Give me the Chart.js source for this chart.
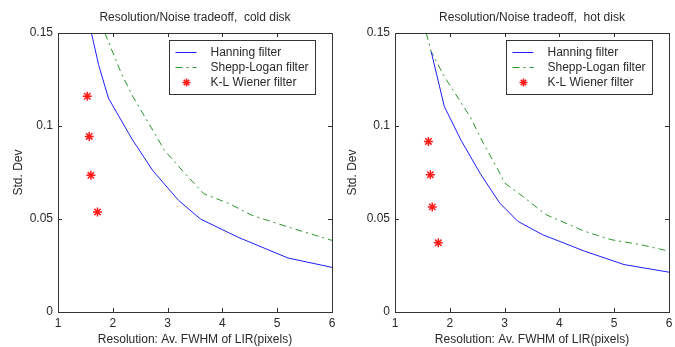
<!DOCTYPE html>
<html lang="en">
<head>
  <meta charset="UTF-8" />
  <title>Resolution/Noise tradeoff</title>
  <script src="https://cdn.jsdelivr.net/npm/chart.js"></script>
  <style>
    body { margin: 0; background: #fff; overflow: hidden; }
    .wrap { position: relative; width: 675px; height: 347px; overflow: hidden; }
    canvas { position: absolute; top: 0; }
    #cold { left: 0; }
    #hot { left: 338px; }
  </style>
</head>
<body>
  <div class="wrap">
    <canvas id="cold" width="338" height="347"></canvas>
    <canvas id="hot" width="337" height="347"></canvas>
  </div>
  <script>
    // values
    const xTicks = [1, 2, 3, 4, 5, 6];
    const yTicks = [0, 0.05, 0.1, 0.15];
    const seriesNames = ['Hanning filter', 'Shepp-Logan filter', 'K-L Wiener filter'];

    const coldHanningX = [1.61, 1.74, 1.92, 2.35, 2.73, 3.2, 3.6, 4.3, 5.2, 6.0];
    const coldHanningY = [0.150, 0.133, 0.115, 0.093, 0.076, 0.060, 0.050, 0.040, 0.029, 0.024];
    const coldSheppX = [1.855, 2.16, 2.37, 2.73, 2.94, 3.3, 3.66, 4.12, 4.54, 5.2, 6.0];
    const coldSheppY = [0.150, 0.128, 0.1156, 0.0977, 0.087, 0.075, 0.0636, 0.0583, 0.052, 0.0457, 0.0385];
    const coldWienerX = [1.535, 1.57, 1.6, 1.72];
    const coldWienerY = [0.116, 0.0944, 0.0735, 0.0538];

    const hotHanningX = [1.66, 1.9, 2.2, 2.55, 2.91, 3.24, 3.69, 4.46, 5.18, 6.0];
    const hotHanningY = [0.140, 0.1105, 0.0926, 0.0747, 0.0586, 0.0488, 0.0416, 0.0327, 0.0255, 0.0214];
    const hotSheppX = [1.57, 1.66, 1.9, 2.37, 2.61, 2.88, 3.0, 3.33, 3.75, 4.46, 4.94, 5.48, 6.0];
    const hotSheppY = [0.150, 0.140, 0.1266, 0.105, 0.0908, 0.0765, 0.0694, 0.0622, 0.0524, 0.0434, 0.0389, 0.0362, 0.0327];
    const hotWienerX = [1.61, 1.645, 1.68, 1.79];
    const hotWienerY = [0.0917, 0.0738, 0.0565, 0.0372];

    const FONT = 'Arial, "Liberation Sans", sans-serif';
    const TEXT = '#2a2a2a';
    const BLUE = '#1f1fff';
    const GREEN = '#2a952a';
    const RED = '#ff1a1a';
    const DASHDOT = [7, 4, 2, 4];

    const pts = (xs, ys) => xs.map((x, i) => ({ x: x, y: ys[i] }));

    // box, inward ticks, x tick labels, title and legend, matlab style
    const matlabFrame = {
      id: 'matlabFrame',
      afterDatasetsDraw(chart, args, opts) {
        const c = chart.ctx;
        const a = chart.chartArea;
        const sx = chart.scales.x, sy = chart.scales.y;
        c.save();
        c.strokeStyle = '#333';
        c.lineWidth = 1;
        c.setLineDash([]);
        c.beginPath();
        xTicks.forEach(t => {
          const px = Math.round(sx.getPixelForValue(t)) + 0.5;
          c.moveTo(px, a.bottom); c.lineTo(px, a.bottom - 4);
          c.moveTo(px, a.top); c.lineTo(px, a.top + 4);
        });
        yTicks.forEach(t => {
          const py = Math.round(sy.getPixelForValue(t)) + 0.5;
          c.moveTo(a.left, py); c.lineTo(a.left + 4, py);
          c.moveTo(a.right, py); c.lineTo(a.right - 4, py);
        });
        c.stroke();
        c.strokeRect(Math.round(a.left) + 0.5, Math.round(a.top) + 0.5,
          Math.round(a.right - a.left), Math.round(a.bottom - a.top));

        // x tick labels (drawn here so they add no side padding)
        c.fillStyle = TEXT;
        c.font = '12px ' + FONT;
        c.textAlign = 'center';
        c.textBaseline = 'top';
        xTicks.forEach(t => c.fillText(String(t), sx.getPixelForValue(t), a.bottom + 6));

        // title
        c.textBaseline = 'middle';
        c.fillText(opts.title, (a.left + a.right) / 2, 18);

        // legend
        const bw = 146, bh = 54;
        const bx = Math.round(a.right - 17 - bw) + 0.5;
        const by = Math.round(a.top + 7) + 0.5;
        c.fillStyle = '#fff';
        c.fillRect(bx, by, bw, bh);
        c.strokeStyle = '#333';
        c.strokeRect(bx, by, bw, bh);
        chart.data.datasets.forEach((ds, i) => {
          const ry = by + 12 + i * 15;
          if (ds.showLine === false) {
            c.strokeStyle = ds.borderColor;
            c.lineWidth = 1.5;
            const cx = bx + 17, r = 4;
            c.beginPath();
            c.moveTo(cx - r, ry); c.lineTo(cx + r, ry);
            c.moveTo(cx, ry - r); c.lineTo(cx, ry + r);
            c.moveTo(cx - r * 0.7, ry - r * 0.7); c.lineTo(cx + r * 0.7, ry + r * 0.7);
            c.moveTo(cx - r * 0.7, ry + r * 0.7); c.lineTo(cx + r * 0.7, ry - r * 0.7);
            c.stroke();
          } else {
            c.strokeStyle = ds.borderColor;
            c.lineWidth = 1;
            c.setLineDash(ds.borderDash || []);
            c.beginPath();
            c.moveTo(bx + 6, ry); c.lineTo(bx + 27, ry);
            c.stroke();
            c.setLineDash([]);
          }
          c.fillStyle = TEXT;
          c.font = '12px ' + FONT;
          c.textAlign = 'left';
          c.fillText(ds.label, bx + 41, ry);
        });
        c.restore();
      }
    };

    function makeChart(id, title, hanning, shepp, wiener, axisW, padRight, yTitlePad) {
      return new Chart(document.getElementById(id), {
        type: 'line',
        data: {
          datasets: [
            { label: seriesNames[0], data: hanning, borderColor: BLUE, borderWidth: 1,
              pointRadius: 0, fill: false, tension: 0 },
            { label: seriesNames[1], data: shepp, borderColor: GREEN, borderWidth: 1,
              borderDash: DASHDOT, pointRadius: 0, fill: false, tension: 0 },
            { label: seriesNames[2], data: wiener, borderColor: RED, backgroundColor: RED,
              showLine: false, pointStyle: 'star', pointRadius: 4.5, pointBorderWidth: 1.5 }
          ]
        },
        options: {
          responsive: false,
          animation: false,
          devicePixelRatio: 1,
          layout: { padding: { left: 0, right: padRight, top: 33, bottom: 0 } },
          plugins: {
            legend: { display: false },
            tooltip: { enabled: false },
            matlabFrame: { title: title }
          },
          scales: {
            x: {
              type: 'linear', min: 1, max: 6,
              afterBuildTicks: s => { s.ticks = xTicks.map(v => ({ value: v })); },
              afterFit: s => { s.height = 35; },
              grid: { display: false, drawTicks: false },
              border: { display: false },
              ticks: { display: false },
              title: { display: true, text: 'Resolution: Av. FWHM of LIR(pixels)', color: TEXT,
                font: { family: FONT, size: 12 }, padding: { top: 0, bottom: 0 } }
            },
            y: {
              type: 'linear', min: 0, max: 0.15,
              afterBuildTicks: s => { s.ticks = yTicks.map(v => ({ value: v })); },
              afterFit: s => { s.width = axisW; },
              grid: { display: false, drawTicks: false },
              border: { display: false },
              ticks: { color: TEXT, font: { family: FONT, size: 12 }, padding: 5,
                callback: v => String(parseFloat(v.toFixed(2))) },
              title: { display: true, text: 'Std. Dev', color: TEXT,
                font: { family: FONT, size: 12 }, padding: { top: yTitlePad, bottom: 0 } }
            }
          }
        },
        plugins: [matlabFrame]
      });
    }

    makeChart('cold', 'Resolution/Noise tradeoff,  cold disk',
      pts(coldHanningX, coldHanningY), pts(coldSheppX, coldSheppY), pts(coldWienerX, coldWienerY),
      58, 4, 11);
    makeChart('hot', 'Resolution/Noise tradeoff,  hot disk',
      pts(hotHanningX, hotHanningY), pts(hotSheppX, hotSheppY), pts(hotWienerX, hotWienerY),
      57, 1, 7);
  </script>
</body>
</html>
